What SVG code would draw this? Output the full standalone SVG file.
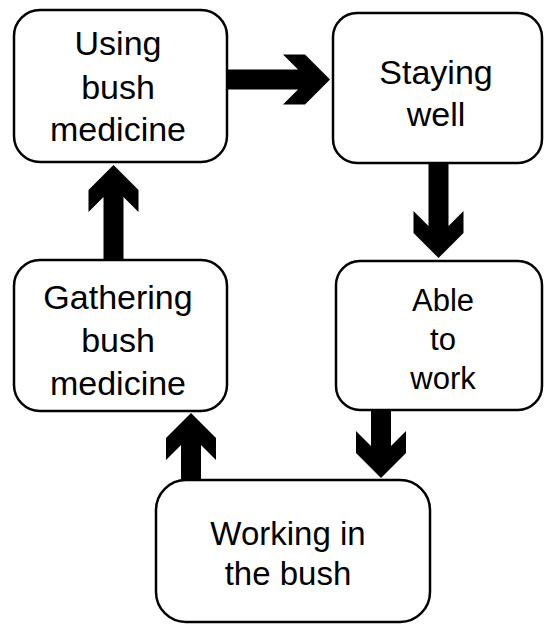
<svg xmlns="http://www.w3.org/2000/svg" width="544" height="624" viewBox="0 0 544 624">
<style>
.box{fill:#fff;stroke:#000;stroke-width:2.5}
.t{font-family:"Liberation Sans",Arial,sans-serif;fill:#000;text-anchor:middle}
.arr{fill:#000;stroke:none}
</style>
<rect width="544" height="624" fill="#fff"/>
<g id="using">
<rect class="box" x="14" y="10" width="213" height="152" rx="26"/>
<text class="t" font-size="34"><tspan x="118" y="55">Using</tspan><tspan x="118" y="99">bush</tspan><tspan x="118" y="141">medicine</tspan></text>
</g>
<g id="staying">
<rect class="box" x="333" y="13" width="209" height="150" rx="24"/>
<text class="t" font-size="34"><tspan x="436" y="84">Staying</tspan><tspan x="436" y="126">well</tspan></text>
</g>
<g id="gathering">
<rect class="box" x="14" y="260" width="213" height="151" rx="26"/>
<text class="t" font-size="34"><tspan x="118" y="309">Gathering</tspan><tspan x="118" y="352">bush</tspan><tspan x="118" y="395">medicine</tspan></text>
</g>
<g id="able">
<rect class="box" x="336" y="261" width="206" height="149" rx="24"/>
<text class="t" font-size="31"><tspan x="443" y="311">Able</tspan><tspan x="443" y="350">to</tspan><tspan x="443" y="389">work</tspan></text>
</g>
<g id="working">
<rect class="box" x="156" y="480" width="274" height="142" rx="30"/>
<text class="t" font-size="33"><tspan x="288" y="545">Working in</tspan><tspan x="288" y="585">the bush</tspan></text>
</g>
<g id="connectors">
<polygon class="arr" transform="translate(330,79.5)" points="0,0 -25,-25 -47,-25 -32,-10 -103,-10 -103,10 -32,10 -47,25 -25,25"/>
<polygon class="arr" transform="translate(438.5,258) rotate(90)" points="0,0 -25,-25 -47,-25 -32,-10 -95,-10 -95,10 -32,10 -47,25 -25,25"/>
<polygon class="arr" transform="translate(381,478) rotate(90)" points="0,0 -25,-25 -47,-25 -32,-10 -68,-10 -68,10 -32,10 -47,25 -25,25"/>
<polygon class="arr" transform="translate(191,413) rotate(-90)" points="0,0 -25,-25 -47,-25 -32,-10 -67,-10 -67,10 -32,10 -47,25 -25,25"/>
<polygon class="arr" transform="translate(113.5,165) rotate(-90)" points="0,0 -25,-25 -47,-25 -32,-10 -95,-10 -95,10 -32,10 -47,25 -25,25"/>
</g>
</svg>
